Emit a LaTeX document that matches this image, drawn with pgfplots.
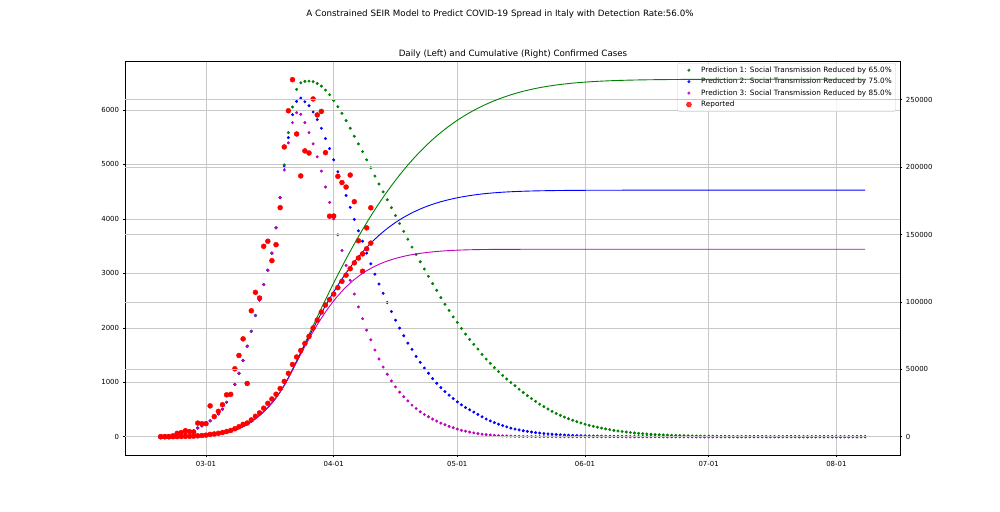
\documentclass[border=0pt]{standalone}
\usepackage{fontspec}
\setmainfont{DejaVu Sans}
\usepackage{pgfplots}
\pgfplotsset{compat=1.18}
\usepackage{pgfplotstable}

\definecolor{mgreen}{rgb}{0,0.5,0}
\definecolor{mblue}{rgb}{0,0,1}
\definecolor{mmag}{rgb}{0.75,0,0.75}
\definecolor{mred}{rgb}{1,0,0}
\definecolor{gridc}{RGB}{200,200,200}
\definecolor{legc}{RGB}{204,204,204}

% d = days since 2020-03-01; g,b,m = daily model predictions; gc,bc,mc = cumulative
\pgfplotstableread{
d g b m gc bc mc
-11 0 0 0 0 0 0
-10 5 5 5 5 5 5
-9 10 10 10 15 15 15
-8 17 17 17 32 32 32
-7 25 25 25 57 57 57
-6 35 35 35 92 92 92
-5 50 50 50 142 142 142
-4 70 70 70 212 212 212
-3 110 110 110 322 322 322
-2 160 160 160 482 482 482
-1 200 200 200 682 682 682
0 250 250 250 932 932 932
1 290 290 290 1222 1222 1222
2 365 365 365 1587 1587 1587
3 420 420 420 2007 2007 2007
4 505 505 505 2512 2512 2512
5 632 632 632 3144 3144 3144
6 785 785 785 3929 3929 3929
7 960 960 960 4889 4889 4889
8 1165 1165 1165 6054 6054 6054
9 1400 1400 1400 7454 7454 7454
10 1662 1662 1662 9116 9116 9116
11 1936 1936 1936 11052 11052 11052
12 2226 2226 2226 13278 13278 13278
13 2510 2510 2510 15788 15788 15788
14 2795 2795 2795 18583 18583 18583
15 3058 3058 3058 21641 21641 21641
16 3371 3371 3371 25012 25012 25012
17 3836 3836 3836 28848 28848 28848
18 4390 4390 4390 33238 33238 33238
19 4990 4950 4897 38228 38188 38135
20 5585 5493 5396 43813 43681 43531
21 6055 5914 5768 49868 49595 49299
22 6378 6159 5951 56246 55754 55250
23 6499 6219 5921 62745 61973 61171
24 6525 6152 5768 69270 68125 66939
25 6530 6079 5585 75800 74204 72524
26 6520 5963 5378 82320 80167 77902
27 6488 5823 5140 88808 85990 83042
28 6439 5665 4878 95247 91655 87920
29 6365 5475 4586 101612 97130 92506
30 6280 5292 4304 107892 102422 96810
31 6175 5085 4000 114067 107507 100810
32 6060 4866 3708 120127 112373 104518
33 5939 4652 3420 126066 117025 107938
34 5805 4430 3146 131871 121455 111084
35 5665 4213 2872 137536 125668 113956
36 5518 3990 2620 143054 129658 116576
37 5378 3781 2384 148432 133439 118960
38 5237 3590 2168 153669 137029 121128
39 5085 3371 1957 158754 140400 123085
40 4939 3175 1780 163693 143575 124865
41 4787 2984 1591 168480 146559 126456
42 4641 2804 1427 173121 149363 127883
43 4496 2634 1280 177617 151997 129163
44 4351 2464 1147 181968 154461 130310
45 4206 2299 1024 186174 156760 131334
46 4061 2140 915 190235 158900 132249
47 3916 1994 818 194151 160894 133067
48 3771 1853 735 197922 162747 133802
49 3626 1719 658 201548 164466 134460
50 3481 1604 580 205029 166070 135040
51 3347 1476 518 208376 167546 135558
52 3213 1366 457 211589 168912 136015
53 3079 1262 408 214668 170174 136423
54 2945 1165 366 217613 171339 136789
55 2811 1066 324 220424 172405 137113
56 2689 982 287 223113 173387 137400
57 2555 902 250 225668 174289 137650
58 2433 829 220 228101 175118 137870
59 2318 763 190 230419 175881 138060
60 2200 701 165 232619 176582 138225
61 2098 640 141 234717 177222 138366
62 1988 585 118 236705 177807 138484
63 1884 536 102 238589 178343 138586
64 1787 494 86 240376 178837 138672
65 1696 452 70 242072 179289 138742
66 1610 410 57 243682 179699 138799
67 1512 365 46 245194 180064 138845
68 1426 325 38 246620 180389 138883
69 1348 290 31 247968 180679 138914
70 1268 258 25 249236 180937 138939
71 1195 230 20 250431 181167 138959
72 1125 205 16 251556 181372 138975
73 1060 180 13 252616 181552 138988
74 996 158 10 253612 181710 138998
75 935 140 8 254547 181850 139006
76 872 124 6 255419 181974 139012
77 812 110 5 256231 182084 139017
78 755 97 4 256986 182181 139021
79 700 86 3 257686 182267 139024
80 648 76 2 258334 182343 139026
81 598 67 2 258932 182410 139028
82 552 59 1 259484 182469 139029
83 508 52 1 259992 182521 139030
84 466 46 1 260458 182567 139031
85 428 40 0 260886 182607 139031
86 393 35 0 261279 182642 139031
87 360 31 0 261639 182673 139031
88 330 27 0 261969 182700 139031
89 302 24 0 262271 182724 139031
90 276 21 0 262547 182745 139031
91 252 18 0 262799 182763 139031
92 230 16 0 263029 182779 139031
93 210 14 0 263239 182793 139031
94 191 12 0 263430 182805 139031
95 174 10 0 263604 182815 139031
96 158 9 0 263762 182824 139031
97 143 8 0 263905 182832 139031
98 130 7 0 264035 182839 139031
99 117 6 0 264152 182845 139031
100 106 5 0 264258 182850 139031
101 95 4 0 264353 182854 139031
102 86 4 0 264439 182858 139031
103 77 3 0 264516 182861 139031
104 69 3 0 264585 182864 139031
105 62 2 0 264647 182866 139031
106 56 2 0 264703 182868 139031
107 50 2 0 264753 182870 139031
108 45 1 0 264798 182871 139031
109 40 1 0 264838 182872 139031
110 36 1 0 264874 182873 139031
111 32 0 0 264906 182873 139031
112 29 0 0 264935 182873 139031
113 26 0 0 264961 182873 139031
114 23 0 0 264984 182873 139031
115 20 0 0 265004 182873 139031
116 18 0 0 265022 182873 139031
117 16 0 0 265038 182873 139031
118 14 0 0 265052 182873 139031
119 12 0 0 265064 182873 139031
120 11 0 0 265075 182873 139031
121 10 0 0 265085 182873 139031
122 9 0 0 265094 182873 139031
123 8 0 0 265102 182873 139031
124 7 0 0 265109 182873 139031
125 6 0 0 265115 182873 139031
126 5 0 0 265120 182873 139031
127 5 0 0 265125 182873 139031
128 4 0 0 265129 182873 139031
129 4 0 0 265133 182873 139031
130 3 0 0 265136 182873 139031
131 3 0 0 265139 182873 139031
132 3 0 0 265142 182873 139031
133 2 0 0 265144 182873 139031
134 2 0 0 265146 182873 139031
135 2 0 0 265148 182873 139031
136 2 0 0 265150 182873 139031
137 1 0 0 265151 182873 139031
138 1 0 0 265152 182873 139031
139 1 0 0 265153 182873 139031
140 1 0 0 265154 182873 139031
141 1 0 0 265155 182873 139031
142 1 0 0 265156 182873 139031
143 1 0 0 265157 182873 139031
144 0 0 0 265157 182873 139031
145 0 0 0 265157 182873 139031
146 0 0 0 265157 182873 139031
147 0 0 0 265157 182873 139031
148 0 0 0 265157 182873 139031
149 0 0 0 265157 182873 139031
150 0 0 0 265157 182873 139031
151 0 0 0 265157 182873 139031
152 0 0 0 265157 182873 139031
153 0 0 0 265157 182873 139031
154 0 0 0 265157 182873 139031
155 0 0 0 265157 182873 139031
156 0 0 0 265157 182873 139031
157 0 0 0 265157 182873 139031
158 0 0 0 265157 182873 139031
159 0 0 0 265157 182873 139031
160 0 0 0 265157 182873 139031
}\model

% reported: daily and cumulative
\pgfplotstableread{
d daily cum
-11 0 3
-10 0 3
-9 0 3
-8 17 20
-7 62 79
-6 76 155
-5 110 229
-4 93 322
-3 85 400
-2 250 650
-1 238 888
0 240 1128
1 566 1694
2 370 2036
3 466 2502
4 587 3089
5 769 3858
6 778 4636
7 1247 5883
8 1492 7375
9 1797 9172
10 977 10149
11 2313 12462
12 2651 15113
13 2547 17660
14 3497 21157
15 3590 24747
16 3233 27980
17 3526 31506
18 4207 35713
19 5322 41035
20 5986 47021
21 6557 53578
22 5560 59138
23 4789 63927
24 5249 69176
25 5210 74386
26 6203 80589
27 5909 86498
28 5974 92472
29 5217 97689
30 4050 101739
31 4053 105792
32 4782 110574
33 4668 115242
34 4585 119827
35 4805 124632
36 4316 128948
37 3599 132547
38 3039 135586
39 3836 139422
40 4204 143626
}\rep

\begin{document}
\begin{tikzpicture}[x=1pt,y=1pt]
\pgfplotsset{
  base/.style={
    scale only axis, width=775pt, height=394pt,
    at={(125pt,56pt)}, anchor=south west,
    xmin=-19.66, xmax=168.45,
    axis line style={black, line width=0.56pt},
    every tick/.style={black, line width=0.56pt},
    tick align=outside,
    major tick length=2.45pt,
    tick label style={font=\fontsize{6.95}{8}\selectfont},
    yticklabel style={/pgf/number format/fixed, /pgf/number format/1000 sep={}, /pgf/number format/assume math mode=true},
    scaled ticks=false,
    major grid style={gridc, line width=0.6pt},
    clip=false,
  }
}
\begin{axis}[base,
  ymin=-336, ymax=6900,
  xtick={0,31,61,92,122,153},
  xticklabels={03-01,04-01,05-01,06-01,07-01,08-01},
  ytick={0,1000,2000,3000,4000,5000,6000},
  xtick pos=lower, ytick pos=lower,
  xmajorgrids=true, ymajorgrids=true,
  legend cell align=left,
  legend style={at={(rel axis cs:0.9948,0.9949)}, anchor=north east,
    font=\fontsize{7.3}{8.4}\selectfont,
    draw=legc, fill=white, fill opacity=0.8, text opacity=1,
    rounded corners=2pt, inner xsep=2pt, inner ysep=1.5pt,
    row sep=0.4pt},
  legend image code/.code={\draw[#1] plot coordinates {(9pt,0pt)}; \path (0pt,-2pt) (19pt,2pt);},
]
\addplot[only marks, mark=*, mark size=1.3pt, color=mgreen] table[x=d,y=g]{\model};
\addlegendentry{Prediction 1: Social Transmission Reduced by 65.0\%}
\addplot[only marks, mark=*, mark size=1.3pt, color=mblue] table[x=d,y=b]{\model};
\addlegendentry{Prediction 2: Social Transmission Reduced by 75.0\%}
\addplot[only marks, mark=*, mark size=1.3pt, color=mmag] table[x=d,y=m]{\model};
\addlegendentry{Prediction 3: Social Transmission Reduced by 85.0\%}
\addplot[only marks, mark=*, mark size=2.5pt, color=mred] table[x=d,y=daily]{\rep};
\addlegendentry{Reported}
\end{axis}
\begin{axis}[base,
  ymin=-13576, ymax=278700,
  axis x line=none,
  axis y line*=right,
  ytick={0,50000,100000,150000,200000,250000},
  xmajorgrids=false, ymajorgrids=true,
]
\addplot[no marks, color=mgreen, line width=0.9pt] table[x=d,y=gc]{\model};
\addplot[no marks, color=mblue, line width=0.9pt] table[x=d,y=bc]{\model};
\addplot[no marks, color=mmag, line width=0.9pt] table[x=d,y=mc]{\model};
\addplot[only marks, mark=*, mark size=2.5pt, color=mred] table[x=d,y=cum]{\rep};
\end{axis}
\node[anchor=base, font=\fontsize{8.7}{10}\selectfont] at (500pt,494pt) {A Constrained SEIR Model to Predict COVID-19 Spread in Italy with Detection Rate:56.0\%};
\node[anchor=base, font=\fontsize{8.7}{10}\selectfont] at (513pt,454.5pt) {Daily (Left) and Cumulative (Right) Confirmed Cases};
\pgfresetboundingbox
\path[use as bounding box] (0pt,0pt) rectangle (1000pt,511pt);
\end{tikzpicture}
\end{document}
